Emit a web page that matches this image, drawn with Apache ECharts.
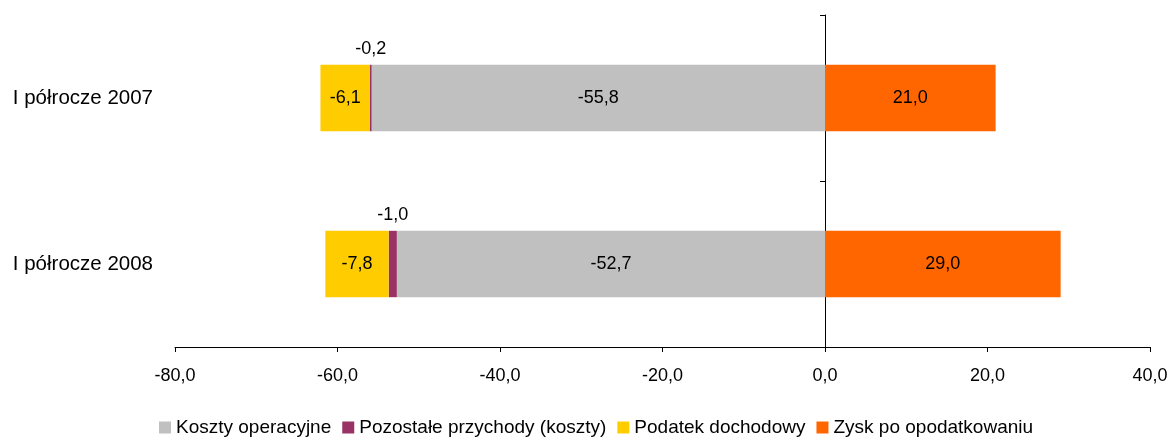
<!DOCTYPE html>
<html>
<head>
<meta charset="utf-8">
<script src="https://cdn.jsdelivr.net/npm/echarts@6/dist/echarts.min.js"></script>
<style>
html, body { margin: 0; padding: 0; background: #fff; }
#chart { width: 1173px; height: 437px; }
</style>
</head>
<body>
<div id="chart"></div>
<script>
// dane z wykresu
var categories = ['I półrocze 2007', 'I półrocze 2008'];
var koszty = [-55.8, -52.7];
var pozostale = [-0.2, -1.0];
var podatek = [-6.1, -7.8];
var zysk = [21.0, 29.0];
var xTicks = { min: -80, max: 40, interval: 20 };

var FONT = '"Liberation Sans", Arial, sans-serif';

function fmt(v) {
    return Number(v).toFixed(1).replace('.', ',');
}

var chart = echarts.init(document.getElementById('chart'));

function barSeries(name, data, color, labelPos) {
    return {
        name: name,
        type: 'bar',
        stack: 'total',
        barWidth: '40%',
        data: data,
        itemStyle: { color: color },
        label: {
            show: true,
            position: labelPos,
            distance: 7,
            color: '#000',
            fontSize: 18,
            fontFamily: FONT,
            formatter: function (p) { return fmt(p.value); }
        }
    };
}

var option = {
    animation: false,
    textStyle: { fontFamily: FONT },
    grid: { left: 175, right: 23, top: 15, bottom: 90 },
    legend: {
        top: 413,
        left: 154,
        itemWidth: 12,
        itemHeight: 12,
        itemGap: 11,
        icon: 'rect',
        textStyle: { fontSize: 19, color: '#000', fontFamily: FONT },
        data: ['Koszty operacyjne', 'Pozostałe przychody (koszty)', 'Podatek dochodowy', 'Zysk po opodatkowaniu']
    },
    xAxis: {
        type: 'value',
        min: xTicks.min,
        max: xTicks.max,
        interval: xTicks.interval,
        splitLine: { show: false },
        axisLine: { show: true, onZero: false, lineStyle: { color: '#000' } },
        axisTick: { show: true, length: 5, lineStyle: { color: '#000' } },
        axisLabel: {
            color: '#000',
            fontSize: 18,
            margin: 20,
            formatter: function (v) { return fmt(v); }
        }
    },
    yAxis: [
        {
            // etykiety kategorii po lewej
            type: 'category',
            data: categories,
            inverse: true,
            position: 'left',
            axisLine: { show: false, onZero: false },
            axisTick: { show: false },
            axisLabel: { color: '#000', fontSize: 20.5, margin: 22 }
        },
        {
            // pionowa linia w zerze
            type: 'category',
            data: categories,
            inverse: true,
            position: 'left',
            axisLine: { show: true, onZero: true, lineStyle: { color: '#000' } },
            axisTick: { show: true, length: 5, lineStyle: { color: '#000' } },
            axisLabel: { show: false }
        }
    ],
    series: [
        barSeries('Koszty operacyjne', koszty, '#C0C0C0', 'inside'),
        barSeries('Pozostałe przychody (koszty)', pozostale, '#993366', 'top'),
        barSeries('Podatek dochodowy', podatek, '#FFCC00', 'inside'),
        barSeries('Zysk po opodatkowaniu', zysk, '#FF6600', 'inside')
    ]
};

chart.setOption(option);
</script>
</body>
</html>
